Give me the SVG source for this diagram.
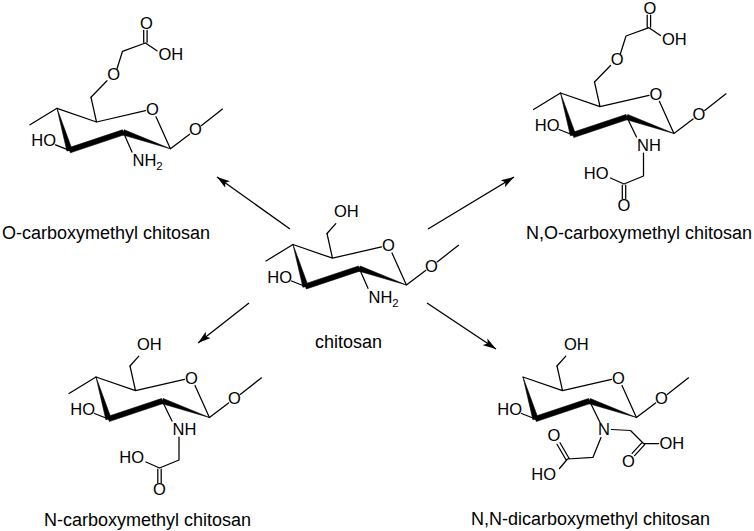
<svg xmlns="http://www.w3.org/2000/svg" xmlns:xlink="http://www.w3.org/1999/xlink" width="754" height="531" viewBox="0 0 754 531">
<style>
.b{fill:none;stroke:#000;stroke-width:1.25;stroke-linecap:round;stroke-linejoin:round}
.w{fill:#000;stroke:#000;stroke-width:0.6;stroke-linejoin:round}
.a{font-family:"Liberation Sans",Arial,sans-serif;font-size:16.5px;fill:#000}
.m{text-anchor:middle}
.e{text-anchor:end}
.cap{font-family:"Liberation Sans",Arial,sans-serif;font-size:18px;fill:#000}
.arr{fill:none;stroke:#000;stroke-width:1.3}
</style>
<defs>
<marker id="ah" markerWidth="14" markerHeight="10" refX="13" refY="5" orient="auto" markerUnits="userSpaceOnUse">
<path d="M0,1 L13,5 L0,9 L3,5 z" fill="#000"/>
</marker>
<g id="ring">
<path class="b" d="M0,0 L39.5,13.7 L34,-11 M39.5,13.7 L88.5,2.3 M99,8.5 L113.4,40.5 L132.6,25.9 M144.2,17.4 L165.5,0.8 M12.5,42 L-1.5,36.5"/>
<polygon class="w" points="0,0 15.1,41.2 9.9,42.8"/>
<polygon class="w" points="11.7,39.5 65.5,21.5 67.1,26.5 13.3,44.5"/>
<polygon class="w" points="65.4,26.5 67.2,21.5 113.4,40.5"/>
</g>
<path id="me" class="b" d="M-27,16.5 L0,0"/>
<path id="c6oh" class="b" d="M34,-11 L42.8,-20.8"/>
<path id="nhac" class="b" d="M66.3,24 L76,44 M83,60 L83,83 L63.5,91 L50,85 M61.8,92 L61.8,106 M65.2,92 L65.2,106"/>
<path id="ocm" class="b" d="M34,-11 L50,-27.5 M60,-39.5 L65.5,-57 L88.4,-65.3 L100,-57.5 M86.7,-66 L86.7,-78 M90.1,-66 L90.1,-78"/>
</defs>

<g id="connectors">
<line class="arr" x1="290" y1="229" x2="217" y2="177" marker-end="url(#ah)"/>
<line class="arr" x1="428" y1="229" x2="514" y2="177" marker-end="url(#ah)"/>
<line class="arr" x1="249" y1="303" x2="198" y2="343" marker-end="url(#ah)"/>
<line class="arr" x1="427" y1="303" x2="496" y2="349" marker-end="url(#ah)"/>
</g>

<g id="node-o-carboxymethyl-chitosan">
<g transform="translate(57,108.3)">
<use xlink:href="#ring"/>
<use xlink:href="#me"/>
<use xlink:href="#ocm"/>
<path class="b" d="M66.3,24 L75,43.8"/>
<text class="a m" x="95.5" y="6.5">O</text>
<text class="a m" x="138.4" y="27">O</text>
<text class="a e" x="-1" y="38">HO</text>
<text class="a" x="75.5" y="58">NH<tspan font-size="11.5" dy="4">2</tspan></text>
<text class="a m" x="56.7" y="-28">O</text>
<text class="a m" x="89.4" y="-79.3">O</text>
<text class="a" x="101.5" y="-48.5">OH</text>
</g>
<text class="cap" x="2" y="239">O-carboxymethyl chitosan</text>
</g>

<g id="node-n-o-carboxymethyl-chitosan">
<g transform="translate(560.5,93)">
<use xlink:href="#ring"/>
<use xlink:href="#me"/>
<use xlink:href="#ocm"/>
<use xlink:href="#nhac"/>
<text class="a m" x="95.5" y="6.5">O</text>
<text class="a m" x="138.4" y="27">O</text>
<text class="a e" x="-1" y="38">HO</text>
<text class="a" x="76.5" y="58">NH</text>
<text class="a m" x="63.5" y="118">O</text>
<text class="a e" x="48" y="86">HO</text>
<text class="a m" x="56.7" y="-28">O</text>
<text class="a m" x="89.4" y="-79.3">O</text>
<text class="a" x="101.5" y="-48.5">OH</text>
</g>
<text class="cap e" x="752" y="239">N,O-carboxymethyl chitosan</text>
</g>

<g id="node-chitosan">
<g transform="translate(293,244.5)">
<use xlink:href="#ring"/>
<use xlink:href="#me"/>
<use xlink:href="#c6oh"/>
<path class="b" d="M66.3,24 L75,43.8"/>
<text class="a m" x="95.5" y="6.5">O</text>
<text class="a m" x="138.4" y="27">O</text>
<text class="a e" x="-1" y="38">HO</text>
<text class="a" x="75.5" y="58">NH<tspan font-size="11.5" dy="4">2</tspan></text>
<text class="a" x="41" y="-27.5">OH</text>
</g>
<text class="cap" x="315" y="348">chitosan</text>
</g>

<g id="node-n-carboxymethyl-chitosan">
<g transform="translate(96,377)">
<use xlink:href="#ring"/>
<use xlink:href="#me"/>
<use xlink:href="#c6oh"/>
<use xlink:href="#nhac"/>
<text class="a m" x="95.5" y="6.5">O</text>
<text class="a m" x="138.4" y="27">O</text>
<text class="a e" x="-1" y="38">HO</text>
<text class="a" x="76.5" y="58">NH</text>
<text class="a m" x="63.5" y="118">O</text>
<text class="a e" x="48" y="86">HO</text>
<text class="a" x="41" y="-27.5">OH</text>
</g>
<text class="cap" x="44" y="525.5">N-carboxymethyl chitosan</text>
</g>

<g id="node-n-n-dicarboxymethyl-chitosan">
<g transform="translate(523,377)">
<use xlink:href="#ring"/>
<use xlink:href="#c6oh"/>
<path class="b" d="M67,25 L77.5,46.5 M88.5,52.5 L107.5,53.5 L120.5,66.5 L135.5,66.5 M121.7,67.6 L111.6,78.6 M119.2,65.3 L109.1,76.3 M78,60.5 L70,80.3 L44.5,82 L36.5,91.5 M46,81.2 L37,65.7 M43,82.8 L34,67.3"/>
<text class="a m" x="81" y="58">N</text>
<text class="a" x="136.5" y="72">OH</text>
<text class="a m" x="105.3" y="89.7">O</text>
<text class="a m" x="31" y="63.7">O</text>
<text class="a e" x="33" y="103">HO</text>
<text class="a m" x="95.5" y="6.5">O</text>
<text class="a m" x="138.4" y="27">O</text>
<text class="a e" x="-1" y="38">HO</text>
<text class="a" x="41" y="-27.5">OH</text>
</g>
<text class="cap" x="471" y="525">N,N-dicarboxymethyl chitosan</text>
</g>
</svg>
